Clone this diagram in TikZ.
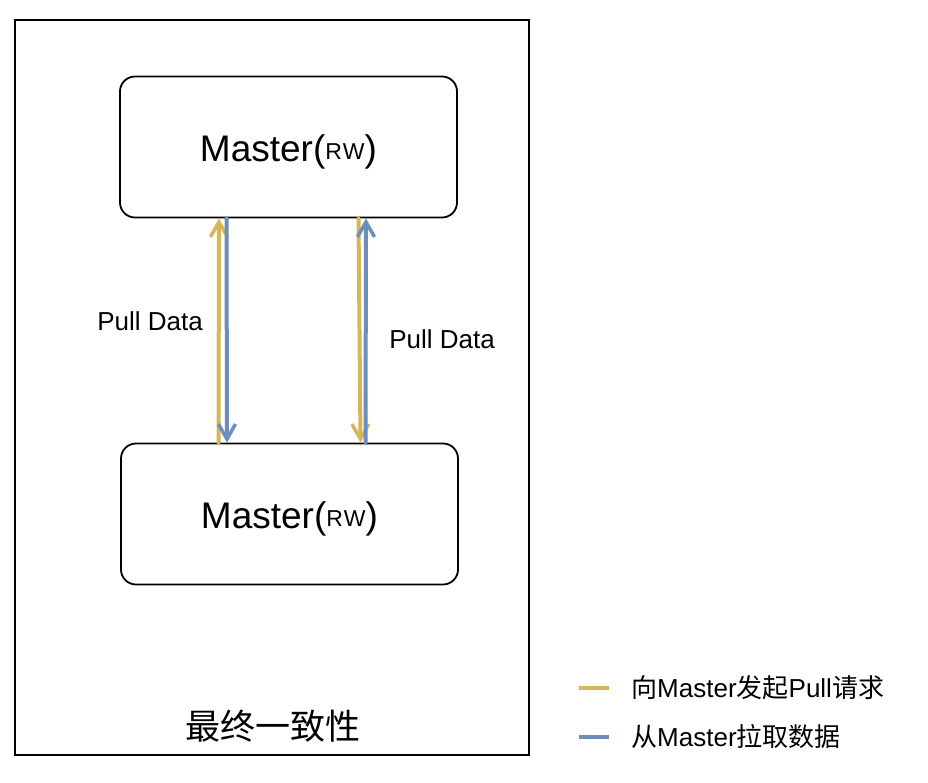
\documentclass[tikz,border=0pt]{standalone}
\usepackage{fontspec}
\setmainfont{Liberation Sans}
\newfontfamily\cjk{Noto Sans CJK SC}
\usetikzlibrary{arrows.meta,calc}
\definecolor{ylw}{HTML}{D6B656}
\definecolor{blu}{HTML}{6C8EBF}
\newcommand{\mrw}{Master(\raisebox{2.5pt}{\fontsize{23}{26}\selectfont R\kern1pt W})}
\tikzset{
  mbox/.style={draw=black, line width=1.8pt, rounded corners=15pt, minimum width=337pt, minimum height=141pt, inner sep=0pt},
  mtext/.style={inner sep=0pt, font=\fontsize{37}{40}\selectfont},
  yarrow/.style={draw=ylw, line width=4pt, line cap=round, -{Straight Barb[length=15pt,width=17pt,line width=3.5pt]}},
  barrow/.style={draw=blu, line width=4pt, line cap=round, -{Straight Barb[length=15pt,width=17pt,line width=3.5pt]}},
  lbl/.style={font=\fontsize{26}{28}\selectfont, inner sep=0pt},
  legline/.style={line width=4.5pt},
}
\begin{document}
\begin{tikzpicture}[x=1pt,y=-1pt]
\useasboundingbox (0,0) rectangle (928,782);
% frame
\node[draw=black, line width=2.4pt, minimum width=514pt, minimum height=735pt, inner sep=0pt] (frame) at (272,387.5) {};
\node[inner sep=0pt, font=\cjk\fontsize{35}{38}\selectfont] (title) at (273,726) {最终一致性};
% boxes
\node[mbox] (top) at (288.5,147) {};
\node[mbox] (bot) at (289.5,514) {};
\node[mtext] (toptext) at ([yshift=-5pt]top.center) {\mrw};
\node[mtext] (bottext) at ([yshift=-5pt]bot.center) {\mrw};
% arrows
\draw[yarrow] ([xshift=-71pt]bot.north) -- ([xshift=-69.5pt]top.south);
\draw[barrow] ([xshift=-62pt]top.south) -- ([xshift=-62.5pt]bot.north);
\draw[yarrow] ([xshift=70pt]top.south) -- ([xshift=71pt]bot.north);
\draw[barrow] ([xshift=76pt]bot.north) -- ([xshift=77.5pt]top.south);
% labels
\node[lbl] (pl) at (150,321) {Pull Data};
\node[lbl] (pr) at (442,339) {Pull Data};
% legend
\coordinate (ya) at (579,688);
\coordinate (yb) at (609,688);
\coordinate (ba) at (579,737);
\coordinate (bb) at (609,737);
\draw[legline, ylw] (ya) -- (yb);
\draw[legline, blu] (ba) -- (bb);
\node[lbl, anchor=west] (l1) at (631,688) {{\cjk 向}Master{\cjk 发起}Pull{\cjk 请求}};
\node[lbl, anchor=west] (l2) at (631,737) {{\cjk 从}Master{\cjk 拉取数据}};
\end{tikzpicture}
\end{document}
